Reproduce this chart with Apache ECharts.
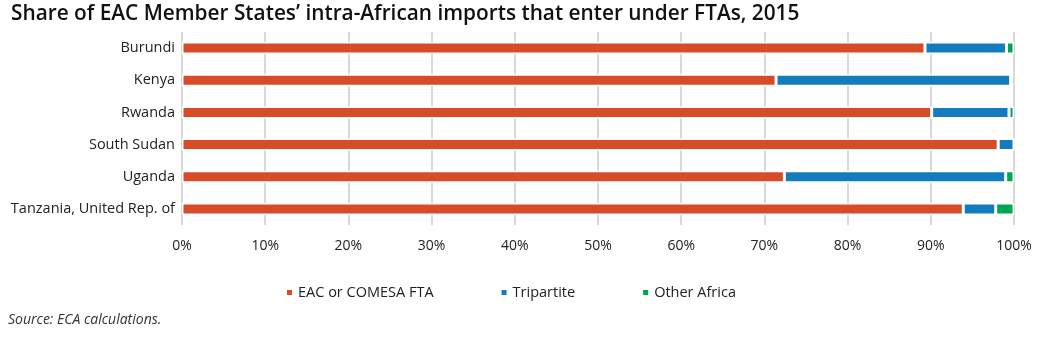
<!DOCTYPE html>
<html lang="en" style="height: 100%">
<head>
  <meta charset="utf-8">
</head>
<body style="height: 100%; margin: 0">
  <div id="container" style="width: 1061px; height: 354px"></div>
  <script src="https://cdn.jsdelivr.net/npm/echarts@6/dist/echarts.min.js"></script>
  <script type="text/javascript">
    var dom = document.getElementById('container');
    var myChart = echarts.init(dom, null, { renderer: 'canvas' });

    const countries = ['Burundi', 'Kenya', 'Rwanda', 'South Sudan', 'Uganda', 'Tanzania, United Rep. of'];
    const eacComesa = [89.3, 71.4, 90.1, 98.1, 72.4, 93.9];
    const tripartite = [9.8, 28.2, 9.3, 1.9, 26.6, 3.9];
    const otherAfrica = [0.9, 0, 0.6, 0, 1.0, 2.2];
    const seriesNames = ['EAC or COMESA FTA', 'Tripartite', 'Other Africa'];
    const colors = ['#d84b29', '#127cbf', '#00a650'];

    const font = 'Open Sans';
    const values = [eacComesa, tripartite, otherAfrica];

    var option = {
      animation: false,
      title: {
        text: 'Share of EAC Member States\u2019 intra-African imports that enter under FTAs, 2015',
        left: 6,
        top: -1,
        textStyle: { fontFamily: font, fontSize: 20.8, fontWeight: 600, color: '#111' }
      },
      graphic: [{
        type: 'text',
        left: 8,
        top: 313,
        style: { text: 'Source: ECA calculations.', font: 'italic 14px "Open Sans"', fill: '#333' }
      }],
      legend: {
        data: seriesNames,
        left: 280,
        top: 280,
        itemWidth: 7,
        itemHeight: 7,
        itemGap: 66,
        icon: 'rect',
        textStyle: { fontFamily: font, fontSize: 14.5, color: '#222' }
      },
      grid: { left: 182, right: 47, top: 32, bottom: 129 },
      xAxis: {
        type: 'value',
        min: 0,
        max: 100,
        interval: 10,
        axisLine: { show: false },
        axisTick: { show: false },
        axisLabel: {
          formatter: '{value}%',
          fontFamily: font, fontSize: 14, color: '#222', margin: 14
        },
        splitLine: { lineStyle: { color: '#d9d9d9', width: 2 } }
      },
      yAxis: {
        type: 'category',
        inverse: true,
        data: countries,
        axisLine: { show: false },
        axisTick: { show: false },
        axisLabel: { fontFamily: font, fontSize: 14.5, color: '#222', margin: 7 }
      },
      series: seriesNames.map(function (name, i) {
        return {
          name: name,
          type: 'bar',
          stack: 'total',
          barWidth: 12,
          itemStyle: { color: colors[i], borderColor: '#fff', borderWidth: 1.5 },
          data: values[i]
        };
      })
    };

    myChart.setOption(option);
    window.addEventListener('resize', myChart.resize);
  </script>
</body>
</html>
